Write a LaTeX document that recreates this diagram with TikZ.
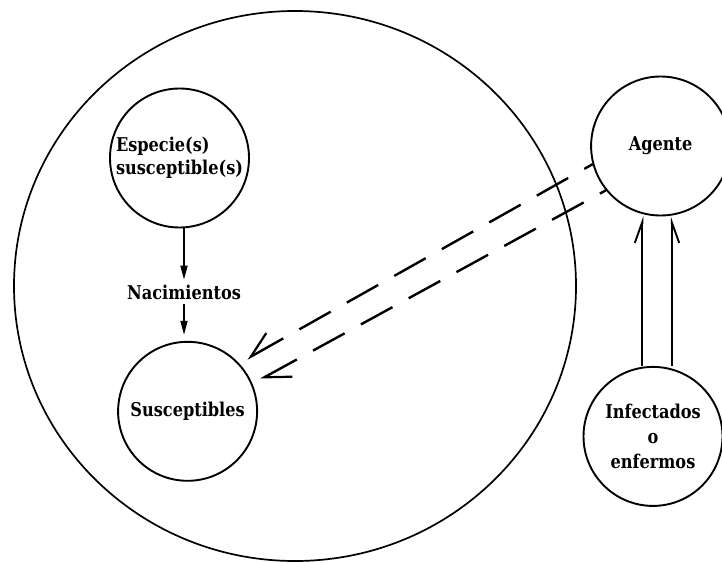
\documentclass[tikz,border=0pt]{standalone}
\usepackage{fontspec}
\setmainfont{DejaVu Serif}[FakeStretch=0.85]
\usetikzlibrary{arrows.meta,shapes.geometric}
\begin{document}
\begin{tikzpicture}[x=1pt,y=-1pt,
  lbl/.style={font=\fontsize{19}{23.5}\selectfont\bfseries},
  ring/.style={draw, circle, line width=1.9pt, minimum size=139pt, inner sep=0pt, lbl, align=center},
  flow/.style={line width=1.7pt, -{Triangle[length=14pt,width=7pt]}},
  contact/.style={line width=2.4pt, dash pattern=on 36pt off 18.5pt, shorten <=9pt},
  feed/.style={line width=1.9pt}
]
\useasboundingbox (0,0) rectangle (722,562);

% host population
\node[draw, ellipse, line width=1.7pt, minimum width=562pt, minimum height=550pt, inner sep=0pt] (host) at (295,286) {};

% compartments
\node[ring, align=left] (es) at (179.5,158) {Especie(s)\\susceptible(s)};
\node[lbl, inner sep=0pt, outer sep=5pt] (nac) at (184,292) {Nacimientos};
\node[ring] (su) at (187.6,411.3) {Susceptibles};
\node[ring] (ag) at (660.6,146) {Agente};
\node[ring, font=\fontsize{19}{25}\selectfont\bfseries] (inf) at (653,436.4) {Infectados\\o\\enfermos};

% births
\draw[flow] (nac.north |- es.south) -- (nac.north);
\draw[flow, shorten >=6pt] (nac.south) -- (nac.south |- su.north);

% agent reaching the susceptibles
\draw[contact, {Straight Barb[right,length=25pt,width=26pt,line width=2.2pt]}-] (su.43) -- (ag.195);
\draw[contact, {Straight Barb[left,length=25pt,width=26pt,line width=2.2pt]}-] (su.23) -- (ag.219);

% agent released by the infected
\coordinate (xl) at (642.3,0);
\coordinate (xr) at (671.7,0);
\draw[feed, -{Straight Barb[left,length=21pt,width=15pt,line width=1.9pt]}] (xl |- inf.north) -- (xl |- ag.south);
\draw[feed, -{Straight Barb[right,length=21pt,width=15pt,line width=1.9pt]}] (xr |- inf.north) -- (xr |- ag.south);
\end{tikzpicture}
\end{document}
